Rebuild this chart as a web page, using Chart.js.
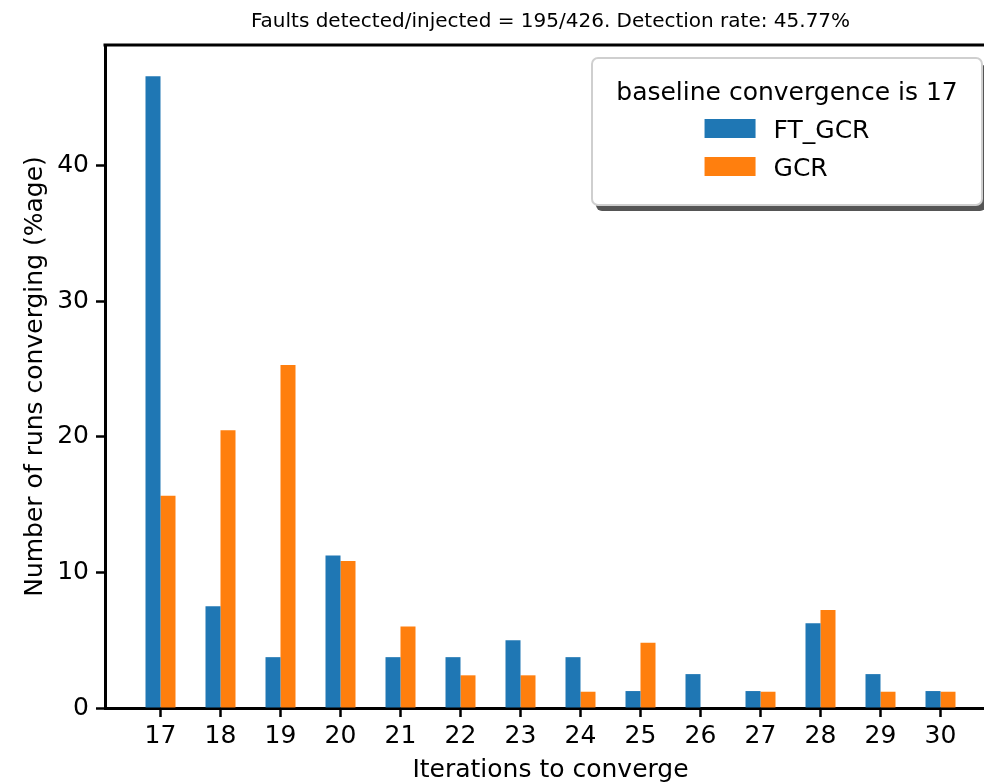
<!DOCTYPE html>
<html>
<head>
<meta charset="utf-8">
<script src="https://cdn.jsdelivr.net/npm/chart.js@4.4.1/dist/chart.umd.min.js"></script>
<style>
  html, body { margin: 0; padding: 0; background: #fff; overflow: hidden; }
  #wrap { width: 984px; height: 783px; overflow: hidden; }
  canvas { display: block; }
</style>
</head>
<body>
<div id="wrap"><canvas id="myChart" width="1000" height="783"></canvas></div>
<script>
// values (percent of runs)
const iterations = [17, 18, 19, 20, 21, 22, 23, 24, 25, 26, 27, 28, 29, 30];
const ftGcr = [46.6, 7.5, 3.75, 11.25, 3.75, 3.75, 5.0, 3.75, 1.25, 2.5, 1.25, 6.25, 2.5, 1.25];
const gcr = [15.66, 20.48, 25.3, 10.84, 6.02, 2.41, 2.41, 1.2, 4.82, 0, 1.2, 7.23, 1.2, 1.2];
const seriesNames = ['FT_GCR', 'GCR'];
const seriesColors = ['#1f77b4', '#ff7f0e'];
const chartTitle = 'Faults detected/injected = 195/426. Detection rate: 45.77%';
const legendTitle = 'baseline convergence is 17';
const xTitle = 'Iterations to converge';
const yTitle = 'Number of runs converging (%age)';

Chart.defaults.font.family = "'DejaVu Sans', sans-serif";
Chart.defaults.color = '#000';

// top/right frame lines (like the matplotlib box)
const frame = {
  id: 'frame',
  afterDatasetsDraw(chart) {
    const { ctx, chartArea } = chart;
    ctx.save();
    ctx.strokeStyle = '#000';
    ctx.lineWidth = 3;
    ctx.beginPath();
    ctx.moveTo(chartArea.left - 1.5, chartArea.top);
    ctx.lineTo(chartArea.right, chartArea.top);
    ctx.lineTo(chartArea.right, chartArea.bottom);
    ctx.stroke();
    ctx.restore();
  }
};

// legend box with title, drawn inside the plot
const legendBox = {
  id: 'legendBox',
  afterDraw(chart) {
    const { ctx, chartArea } = chart;
    const w = 390, h = 147, r = 6;
    const x = chartArea.right - 14 - w;
    const y = chartArea.top + 13;

    ctx.save();
    ctx.fillStyle = '#555';
    ctx.beginPath();
    ctx.roundRect(x + 4, y + 6, w, h, r);
    ctx.fill();

    ctx.fillStyle = '#fff';
    ctx.strokeStyle = '#cfcfcf';
    ctx.lineWidth = 2;
    ctx.beginPath();
    ctx.roundRect(x, y, w, h, r);
    ctx.fill();
    ctx.stroke();

    ctx.fillStyle = '#000';
    ctx.font = "25px 'DejaVu Sans'";
    ctx.textAlign = 'center';
    ctx.textBaseline = 'alphabetic';
    ctx.fillText(legendTitle, x + w / 2, y + 42);

    const ds = chart.data.datasets;
    const labelW = Math.max(...ds.map(d => ctx.measureText(d.label).width));
    const patchW = 51, patchH = 19, gap = 18;
    const left = x + w / 2 - (patchW + gap + labelW) / 2;
    ctx.textAlign = 'left';
    ds.forEach((d, i) => {
      const top = y + 61 + i * 38;
      ctx.fillStyle = d.backgroundColor;
      ctx.fillRect(left, top, patchW, patchH);
      ctx.fillStyle = '#000';
      ctx.fillText(d.label, left + patchW + gap, top + patchH);
    });
    ctx.restore();
  }
};

const ctx = document.getElementById('myChart');

new Chart(ctx, {
  type: 'bar',
  data: {
    datasets: [
      {
        label: seriesNames[0],
        data: iterations.map((it, i) => ({ x: it, y: ftGcr[i] })),
        backgroundColor: seriesColors[0],
        borderWidth: 0
      },
      {
        label: seriesNames[1],
        data: iterations.map((it, i) => ({ x: it, y: gcr[i] })),
        backgroundColor: seriesColors[1],
        borderWidth: 0
      }
    ]
  },
  options: {
    responsive: false,
    animation: false,
    categoryPercentage: 0.5,
    barPercentage: 1.0,
    layout: { padding: { left: 0, right: 4, top: 0, bottom: 0 } },
    plugins: {
      legend: { display: false },
      tooltip: { enabled: false },
      title: {
        display: true,
        text: chartTitle,
        fullSize: false,
        font: { size: 20, weight: 'normal', lineHeight: 1.2 },
        padding: { top: 10, bottom: 11 }
      }
    },
    scales: {
      x: {
        type: 'linear',
        offset: false,
        min: 16.075,
        max: 30.925,
        z: 1,
        afterFit(scale) { scale.height = 75; },
        ticks: { stepSize: 1, includeBounds: false, padding: 4, font: { size: 25 } },
        grid: { display: true, offset: false, drawOnChartArea: false, tickLength: 9, tickWidth: 2.5, tickColor: '#000' },
        border: { display: true, color: '#000', width: 3 },
        title: {
          display: true,
          text: xTitle,
          font: { size: 25, lineHeight: 1 },
          padding: { top: 0, bottom: 0 }
        }
      },
      y: {
        min: 0,
        max: 48.9,
        z: 1,
        afterFit(scale) { scale.width = 105; },
        ticks: { stepSize: 10, includeBounds: false, padding: 7, font: { size: 25 } },
        grid: { display: true, drawOnChartArea: false, tickLength: 9, tickWidth: 2.5, tickColor: '#000' },
        border: { display: true, color: '#000', width: 3 },
        title: {
          display: true,
          text: yTitle,
          font: { size: 25, lineHeight: 1 },
          padding: { top: 23, bottom: 0 }
        }
      }
    }
  },
  plugins: [frame, legendBox]
});
</script>
</body>
</html>
